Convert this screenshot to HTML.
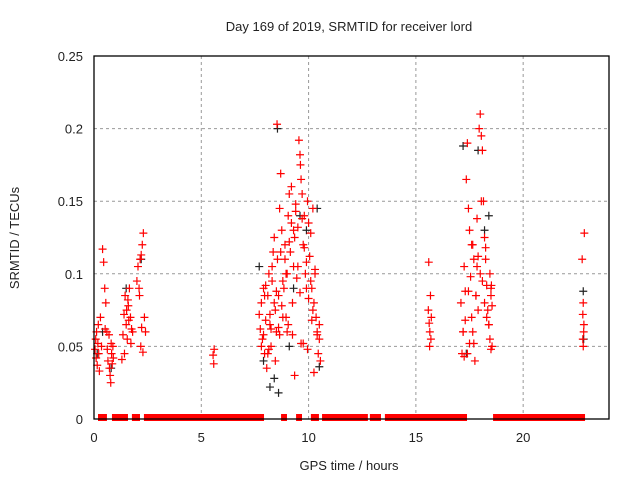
<!DOCTYPE html>
<html><head><meta charset="utf-8"><style>
body{margin:0;background:#fff}
svg text{font-family:"Liberation Sans",sans-serif;fill:#222}
</style></head><body>
<svg id="chart" width="640" height="480" xmlns="http://www.w3.org/2000/svg">
<text x="349" y="31" font-size="13" text-anchor="middle">Day 169 of 2019, SRMTID for receiver lord</text>
<text x="349" y="470" font-size="13" text-anchor="middle">GPS time / hours</text>
<text transform="translate(19,238) rotate(-90)" font-size="13" text-anchor="middle">SRMTID / TECUs</text>
<g id="grid"></g><g id="ticks"></g><g id="bars"></g><g id="black"></g><g id="red"></g>
<rect x="94" y="56" width="515" height="363" fill="none" stroke="#000" stroke-width="1.3"/>
</svg>
<script>
const xTicks=[0,5,10,15,20];
const yTicks=[0,0.05,0.1,0.15,0.2,0.25];
const yTickLabels=["0","0.05","0.1","0.15","0.2","0.25"];
const zeroStart=[0.28,0.93,1.86,2.42,8.81,9.51,10.2,10.72,12.95,13.65,15.75,18.69];
const zeroEnd=[0.51,1.49,2.05,7.83,8.9,9.6,10.39,12.67,13.28,15.66,17.29,22.79];
const redHours=[0.05,0.08,0.1,0.12,0.15,0.18,0.2,0.22,0.25,0.3,0.35,0.4,0.45,0.5,0.52,0.55,0.6,0.62,0.65,0.7,0.72,0.75,0.78,0.8,0.82,0.85,0.88,0.9,1.3,1.35,1.4,1.45,1.5,1.55,1.6,1.62,1.65,1.7,1.72,1.75,1.8,1.42,1.52,1.58,2.0,2.05,2.1,2.15,2.2,2.25,2.3,2.35,2.4,2.12,2.18,2.28,2.22,5.55,5.6,5.58,
7.7,7.75,7.8,7.85,7.9,7.95,8.0,8.05,8.1,8.15,8.2,8.25,8.3,8.35,8.4,8.45,8.5,8.53,8.55,8.6,8.65,8.7,8.75,8.8,8.85,8.9,8.95,9.0,9.05,9.1,9.15,9.2,9.25,9.3,9.35,9.4,9.45,9.5,9.55,9.6,9.62,9.65,9.7,9.75,9.8,9.85,9.9,9.95,10.0,10.05,10.1,10.15,10.2,10.25,10.3,10.35,10.4,10.45,10.5,10.55,7.8,7.9,8.0,8.1,8.2,8.3,8.4,8.5,8.6,8.7,8.8,8.9,9.0,9.1,9.2,9.3,9.4,9.5,9.6,9.7,9.8,9.9,10.0,10.1,10.2,10.3,10.4,10.5,8.15,8.45,8.75,9.05,9.35,9.65,9.95,10.25,7.95,8.25,8.65,8.95,9.25,9.75,10.15,
15.58,15.62,15.65,15.7,15.6,15.68,15.72,15.64,
17.1,17.15,17.2,17.25,17.3,17.35,17.4,17.45,17.5,17.55,17.6,17.65,17.7,17.75,17.8,17.85,17.9,17.95,18.0,18.05,18.1,18.15,18.2,18.25,18.3,18.35,18.4,18.45,18.5,18.55,17.2,17.3,17.4,17.5,17.6,17.7,17.8,17.9,18.0,18.1,18.2,18.3,18.4,18.5,17.25,17.45,17.65,17.85,18.05,18.25,18.45,18.5,18.55,18.52,
22.75,22.78,22.8,22.82,22.85,22.8,22.78,22.83];
const redValues=[0.048,0.055,0.042,0.06,0.037,0.052,0.065,0.045,0.033,0.07,0.05,0.117,0.108,0.09,0.062,0.08,0.06,0.048,0.04,0.058,0.035,0.03,0.025,0.052,0.045,0.038,0.05,0.042,0.041,0.058,0.072,0.085,0.065,0.055,0.078,0.068,0.09,0.07,0.052,0.062,0.06,0.045,0.075,0.082,0.095,0.105,0.09,0.11,0.113,0.12,0.128,0.07,0.06,0.085,0.05,0.046,0.063,0.044,0.048,0.038,
0.072,0.062,0.08,0.055,0.09,0.045,0.068,0.035,0.085,0.1,0.065,0.05,0.095,0.115,0.125,0.075,0.06,0.203,0.11,0.085,0.145,0.169,0.13,0.07,0.09,0.12,0.1,0.06,0.14,0.155,0.115,0.135,0.08,0.105,0.125,0.148,0.097,0.132,0.192,0.182,0.175,0.165,0.155,0.12,0.14,0.1,0.09,0.15,0.135,0.112,0.128,0.09,0.145,0.08,0.1,0.07,0.058,0.045,0.065,0.04,0.05,0.058,0.092,0.045,0.072,0.105,0.08,0.088,0.063,0.115,0.095,0.11,0.1,0.122,0.16,0.13,0.143,0.105,0.087,0.138,0.118,0.108,0.083,0.095,0.075,0.103,0.06,0.055,0.048,0.04,0.078,0.065,0.03,0.052,0.048,0.032,0.085,0.062,0.058,0.07,0.058,0.052,0.068,0.075,0.066,0.06,0.055,
0.108,0.085,0.07,0.05,0.08,0.045,0.06,0.043,
0.088,0.165,0.19,0.145,0.13,0.098,0.07,0.06,0.052,0.04,0.085,0.105,0.112,0.2,0.21,0.195,0.185,0.15,0.125,0.11,0.092,0.075,0.065,0.055,0.048,0.05,0.06,0.068,0.045,0.052,0.12,0.11,0.085,0.075,0.1,0.095,0.08,0.07,0.065,0.09,0.105,0.088,0.12,0.138,0.15,0.118,0.1,0.085,0.078,0.092,0.11,0.055,0.05,0.06,
0.128,0.08,0.072,0.065,0.058,0.05,0.045,0.04];
const blackHours=[0.15,0.4,0.8,1.5,2.2,7.7,7.9,8.4,8.55,8.6,9.1,9.6,9.9,10.4,10.5,17.2,17.35,17.9,18.2,18.4,22.8,22.82,8.2,9.3];
const blackValues=[0.045,0.06,0.035,0.09,0.11,0.105,0.04,0.028,0.2,0.018,0.05,0.14,0.13,0.145,0.036,0.188,0.045,0.185,0.13,0.14,0.088,0.055,0.022,0.09];
const X=h=>94+h*(515/24), Y=v=>419-v*(363/0.25);
const NS="http://www.w3.org/2000/svg";
function mk(t,a,p){const e=document.createElementNS(NS,t);for(const k in a)e.setAttribute(k,a[k]);document.getElementById(p).appendChild(e);return e;}
xTicks.forEach(t=>{
 if(t>0){const g=mk('line',{x1:X(t),x2:X(t),y1:56,y2:419,stroke:'#999','stroke-dasharray':'3,3'},'grid');
 
 }
 const l=mk('text',{x:X(t),y:442,'font-size':13,'text-anchor':'middle'},'ticks');l.textContent=t;
 
 
});
yTicks.forEach((t,i)=>{
 if(t>0&&t<0.25){const g=mk('line',{x1:94,x2:609,y1:Y(t),y2:Y(t),stroke:'#999','stroke-dasharray':'3,3'},'grid');
 
 }
 const l=mk('text',{x:83,y:Y(t)+5,'font-size':13,'text-anchor':'end'},'ticks');l.textContent=yTickLabels[i];
 
 
});
zeroStart.forEach((s,i)=>{
 const r=mk('rect',{x:X(s)-2,y:414,width:X(zeroEnd[i])-X(s)+4,height:7,fill:'#f00'},'bars');
 
 
});
function plus(h,v,c,p){const x=X(h),y=Y(v);
 const e=mk('path',{d:`M${x-4},${y}H${x+4}M${x},${y-4}V${y+4}`,stroke:c,'stroke-width':1.2},p);return e;}
blackHours.forEach((h,i)=>{const e=plus(h,blackValues[i],'#222','black');
 
 });
redHours.forEach((h,i)=>{const e=plus(h,redValues[i],'#f00','red');
 
 });
</script>
</body></html>
